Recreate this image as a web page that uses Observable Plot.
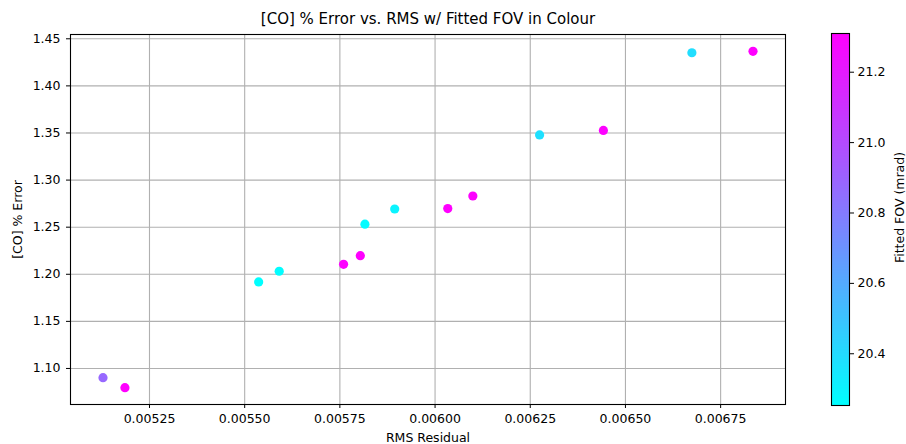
<!DOCTYPE html>
<html>
<head>
<meta charset="utf-8">
<script src="https://cdn.jsdelivr.net/npm/d3@7"></script>
<script src="https://cdn.jsdelivr.net/npm/@observablehq/plot@0.6"></script>
<style>
  html, body { margin: 0; padding: 0; background: #fff; }
  #wrap { position: relative; width: 906px; height: 444px; background: #fff; overflow: hidden; }
  #wrap svg { position: absolute; top: 0; }
</style>
</head>
<body>
<div id="wrap"></div>
<script>
// ---- data ----
const rmsResidual = [0.0051279, 0.0051855, 0.0055367, 0.0055907, 0.0057597, 0.0058037, 0.0058158, 0.0058940, 0.0060334, 0.0060992, 0.0062745, 0.0064421, 0.0066745, 0.0068350];
const coError     = [1.0902, 1.0796, 1.1919, 1.2032, 1.2106, 1.2197, 1.2532, 1.2693, 1.2697, 1.2831, 1.3479, 1.3527, 1.4352, 1.4367];
const fittedFov   = [20.88, 21.31, 20.253, 20.26, 21.30, 21.31, 20.27, 20.30, 21.31, 21.30, 20.38, 21.30, 20.39, 21.309];

const xTicks = [0.00525, 0.00550, 0.00575, 0.00600, 0.00625, 0.00650, 0.00675];
const yTicks = [1.10, 1.15, 1.20, 1.25, 1.30, 1.35, 1.40, 1.45];
const cTicks = [20.4, 20.6, 20.8, 21.0, 21.2];

const titleText = "[CO] % Error vs. RMS w/ Fitted FOV in Colour";
const xLabel = "RMS Residual";
const yLabel = "[CO] % Error";
const cLabel = "Fitted FOV (mrad)";

// ---- build ----
const points = rmsResidual.map((x, i) => ({x, y: coError[i], c: fittedFov[i]}));
function padded(arr) {
  const [a, b] = d3.extent(arr);
  const p = (b - a) * 0.05;
  return [a - p, b + p];
}
const colorDomain = d3.extent(fittedFov);
const colorScale = {type: "linear", domain: colorDomain, interpolate: d3.interpolateRgb("#00ffff", "#ff00ff")};
const font = {fontFamily: "DejaVu Sans, sans-serif", fontSize: "12.5px", color: "#000", background: "transparent"};

const main = Plot.plot({
  width: 800,
  height: 444,
  marginLeft: 70,
  marginRight: 15,
  marginTop: 34,
  marginBottom: 40,
  style: font,
  x: {domain: padded(rmsResidual)},
  y: {domain: padded(coError)},
  color: colorScale,
  marks: [
    Plot.gridX(xTicks, {stroke: "#b0b0b0", strokeOpacity: 1, strokeWidth: 1.1}),
    Plot.gridY(yTicks, {stroke: "#b0b0b0", strokeOpacity: 1, strokeWidth: 1.1}),
    Plot.dot(points, {x: "x", y: "y", fill: "c", r: 4.6, stroke: "none"}),
    Plot.frame({stroke: "#000", strokeWidth: 1.1}),
    Plot.axisX(xTicks, {tickFormat: d3.format(".5f"), tickSize: 4, tickPadding: 6, label: null}),
    Plot.axisY(yTicks, {tickFormat: d3.format(".2f"), tickSize: 4, tickPadding: 6, label: null}),
    Plot.text([titleText], {frameAnchor: "top", dy: -15, fontSize: 15, textAnchor: "middle", lineAnchor: "middle", fill: "#000"}),
    Plot.text([xLabel], {frameAnchor: "bottom", dy: 33, fontSize: 12.5, textAnchor: "middle", lineAnchor: "middle", fill: "#000"}),
    Plot.text([yLabel], {frameAnchor: "left", dx: -53, rotate: -90, fontSize: 12.5, textAnchor: "middle", lineAnchor: "middle", fill: "#000"})
  ]
});
main.style.left = "0px";

const cbar = Plot.plot({
  width: 106,
  height: 444,
  marginLeft: 31,
  marginRight: 57,
  marginTop: 33,
  marginBottom: 39,
  style: font,
  x: {domain: [0, 1], axis: null},
  y: {domain: colorDomain, axis: null},
  color: colorScale,
  marks: [
    Plot.raster({x1: 0, x2: 1, y1: colorDomain[0], y2: colorDomain[1], width: 1, height: 372, fill: (x, y) => y, imageRendering: "auto"}),
    Plot.frame({stroke: "#000", strokeWidth: 1.1}),
    Plot.axisY(cTicks, {anchor: "right", tickFormat: d3.format(".1f"), tickSize: 4, tickPadding: 4, label: null}),
    Plot.text([cLabel], {frameAnchor: "right", dx: 50, dy: -12, rotate: -90, fontSize: 12.5, textAnchor: "middle", lineAnchor: "middle", fill: "#000"})
  ]
});
cbar.style.left = "800px";

const wrap = document.getElementById("wrap");
wrap.appendChild(main);
wrap.appendChild(cbar);
</script>
</body>
</html>
